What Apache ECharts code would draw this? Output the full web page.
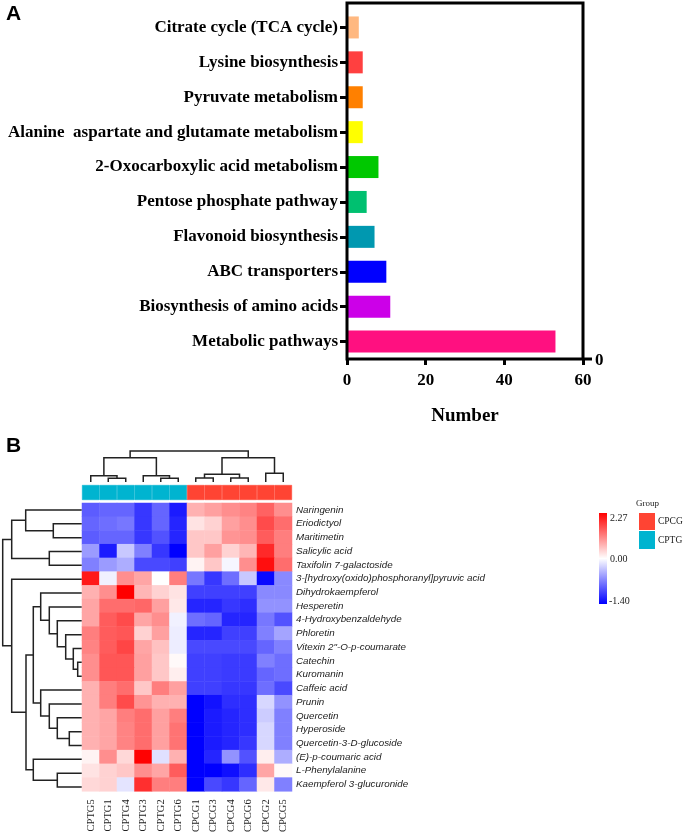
<!DOCTYPE html>
<html>
<head>
<meta charset="utf-8">
<script src="https://cdn.jsdelivr.net/npm/echarts@6/dist/echarts.min.js"></script>
<style>html,body{margin:0;padding:0;background:#fff}#c{width:685px;height:835px}</style>
</head>
<body>
<div id="c"></div>
<script>
// ---------- Panel A data ----------
const pathways = ['Citrate cycle (TCA cycle)','Lysine biosynthesis','Pyruvate metabolism','Alanine  aspartate and glutamate metabolism','2-Oxocarboxylic acid metabolism','Pentose phosphate pathway','Flavonoid biosynthesis','ABC transporters','Biosynthesis of amino acids','Metabolic pathways'];
const pathwayCounts = [3, 4, 4, 4, 8, 5, 7, 10, 11, 53];
const pathwayColors = ['#ffb880','#ff4040','#ff8000','#ffff00','#00c800','#00c070','#0098b0','#0000ff','#cc00e8','#ff1080'];
const numberTicks = [0, 20, 40, 60];

// ---------- Panel B data ----------
const sampleCols = ['CPTG5','CPTG1','CPTG4','CPTG3','CPTG2','CPTG6','CPCG1','CPCG3','CPCG4','CPCG6','CPCG2','CPCG5'];
const sampleGroups = ['CPTG','CPTG','CPTG','CPTG','CPTG','CPTG','CPCG','CPCG','CPCG','CPCG','CPCG','CPCG'];
const metabolites = ['Naringenin','Eriodictyol','Maritimetin','Salicylic acid','Taxifolin 7-galactoside','3-[hydroxy(oxido)phosphoranyl]pyruvic acid','Dihydrokaempferol','Hesperetin','4-Hydroxybenzaldehyde','Phloretin','Vitexin 2"-O-p-coumarate','Catechin','Kuromanin','Caffeic acid','Prunin','Quercetin','Hyperoside','Quercetin-3-D-glucoside','(E)-p-coumaric acid','L-Phenylalanine','Kaempferol 3-glucuronide'];
const zScores = [
  [-0.90,-0.85,-0.85,-1.10,-0.85,-1.25,  0.70, 0.85, 1.00, 1.10, 1.40, 1.00],
  [-0.85,-0.80,-0.75,-1.10,-0.85,-1.20,  0.25, 0.40, 0.85, 1.00, 1.60, 1.30],
  [-0.90,-0.85,-0.85,-1.10,-0.95,-1.20,  0.50, 0.50, 0.95, 1.00, 1.45, 1.15],
  [-0.55,-1.25,-0.30,-0.70,-1.10,-1.40,  0.50, 0.85, 0.40, 0.65, 1.90, 1.15],
  [-0.70,-0.55,-0.45,-1.00,-1.00,-1.05,  0.10, 0.50,-0.05, 1.00, 2.15, 1.30],
  [ 2.05,-0.08, 1.00, 0.80, 0.00, 1.15, -0.75,-1.10,-0.80,-0.30,-1.35,-0.65],
  [ 0.70, 1.00, 2.27, 0.65, 0.40, 0.25, -1.05,-1.05,-1.05,-1.05,-0.65,-0.65],
  [ 0.80, 1.30, 1.30, 1.35, 0.85, 0.20, -1.20,-1.20,-1.10,-1.15,-0.60,-0.60],
  [ 0.80, 1.45, 1.60, 0.80, 1.00,-0.08, -0.80,-0.85,-1.20,-1.20,-0.75,-0.95],
  [ 1.15, 1.45, 1.50, 0.40, 0.85,-0.10, -1.20,-1.20,-1.05,-1.05,-0.70,-0.50],
  [ 1.10, 1.45, 1.65, 0.80, 0.55,-0.10, -1.00,-1.00,-1.00,-1.00,-0.85,-0.70],
  [ 1.00, 1.50, 1.50, 0.85, 0.50, 0.05, -1.05,-1.05,-1.08,-1.08,-0.70,-0.80],
  [ 1.00, 1.50, 1.50, 0.85, 0.50, 0.15, -1.05,-1.05,-1.08,-1.08,-0.85,-0.80],
  [ 0.70, 1.15, 1.30, 0.50, 1.15, 0.85, -1.05,-1.05,-1.10,-1.10,-0.80,-1.00],
  [ 0.70, 1.15, 1.60, 0.95, 0.70, 0.70, -1.40,-1.30,-1.15,-1.15,-0.22,-0.60],
  [ 0.70, 0.80, 1.15, 1.30, 0.85, 1.15, -1.40,-1.25,-1.20,-1.15,-0.28,-0.70],
  [ 0.70, 0.80, 1.10, 1.30, 0.85, 1.25, -1.40,-1.25,-1.20,-1.15,-0.22,-0.70],
  [ 0.70, 0.80, 1.10, 1.30, 0.85, 1.25, -1.40,-1.25,-1.20,-1.10,-0.22,-0.70],
  [ 0.10, 1.00, 0.35, 2.25,-0.17, 0.70, -1.40,-1.20,-0.60,-0.95, 0.15,-0.45],
  [ 0.25, 0.40, 0.50, 1.00, 0.80, 1.45, -1.40,-1.40,-1.32,-1.15, 0.80, 0.05],
  [ 0.35, 0.40,-0.15, 1.85, 1.15, 1.15, -1.40,-1.00,-1.10,-0.85, 0.20,-0.70]
];
const scaleMin = -1.40, scaleMax = 2.27;
// hierarchical clustering merges: [childA, childB, height]; leaves are 0..n-1, merge k becomes node n+k
const colMerges = [[1,2,3.7],[4,5,3.7],[0,12,6.3],[3,13,6.3],[6,7,4.0],[8,9,4.0],[16,17,7.7],[10,11,8.7],[14,15,24.3],[18,19,24.3],[20,21,31]];
const rowMerges = [[1,2,28.4],[0,21,56],[3,4,32.4],[22,23,70],[11,12,4],[10,25,8.4],[9,26,16],[8,27,24.4],[7,28,32.4],[6,29,41],[16,17,12.4],[15,31,24.4],[14,32,32.4],[13,33,41],[30,34,48.4],[19,20,24.4],[18,36,48.4],[35,37,55.7],[5,38,70],[24,39,79]];
const groupNames = ['CPCG','CPTG'];
const groupColors = {CPCG:'#ff4433', CPTG:'#00b4d0'};

// ---------- helpers ----------
function dendroSegments(n, merges){
  const pos = [], hgt = [];
  for (let i=0;i<n;i++){pos.push(i);hgt.push(0);}
  const out = [];
  merges.forEach(m=>{
    const a=m[0], b=m[1], h=m[2];
    out.push([pos[a], hgt[a], pos[b], hgt[b], h]);
    pos.push((pos[a]+pos[b])/2); hgt.push(h);
  });
  return out;
}
const colSegs = dendroSegments(sampleCols.length, colMerges);
const rowSegs = dendroSegments(metabolites.length, rowMerges);

const heatData = [];
zScores.forEach((row,r)=>row.forEach((v,c)=>heatData.push([c,r,v])));

// colour stops so that white sits exactly at 0
const nSeg = 21, zeroStop = Math.round((0-scaleMin)/(scaleMax-scaleMin)*nSeg);
const stops = [];
for (let i=0;i<=nSeg;i++){
  let r,g,b;
  if (i<=zeroStop){const t=i/zeroStop; r=Math.round(255*t); g=r; b=255;}
  else {const t=(i-zeroStop)/(nSeg-zeroStop); r=255; g=Math.round(255*(1-t)); b=g;}
  stops.push('rgb('+r+','+g+','+b+')');
}

const serif = 'Liberation Serif', sans = 'Liberation Sans';
const chart = echarts.init(document.getElementById('c'), null, {renderer:'canvas'});

function dendroRender(horizontal){
  return function(params, api){
    const a=api.value(0), ha=api.value(1), b=api.value(2), hb=api.value(3), h=api.value(4);
    let pts;
    if (horizontal) pts=[api.coord([a,ha]),api.coord([a,h]),api.coord([b,h]),api.coord([b,hb])];
    else pts=[api.coord([ha,a]),api.coord([h,a]),api.coord([h,b]),api.coord([hb,b])];
    return {type:'polyline', shape:{points:pts}, style:{stroke:'#222', lineWidth:1.5, fill:null}};
  };
}

const option = {
  animation:false,
  backgroundColor:'#fff',
  grid:[
    {left:347, top:10, width:236, height:349},
    {left:82, top:451, width:210, height:31},
    {left:82, top:485, width:210, height:15},
    {left:82, top:503, width:210, height:291},
    {left:2.7, top:503, width:79, height:291}
  ],
  xAxis:[
    {gridIndex:0, type:'value', min:numberTicks[0], max:numberTicks[numberTicks.length-1], interval:20,
     axisLine:{show:false}, splitLine:{show:false},
     axisTick:{show:true, length:6, lineStyle:{color:'#000', width:3}},
     axisLabel:{color:'#000', fontFamily:serif, fontWeight:'bold', fontSize:17, margin:13},
     name:'Number', nameLocation:'middle', nameGap:48,
     nameTextStyle:{color:'#000', fontFamily:serif, fontWeight:'bold', fontSize:19}},
    {gridIndex:1, type:'value', min:-0.5, max:sampleCols.length-0.5, show:false},
    {gridIndex:2, type:'category', data:sampleCols, show:false},
    {gridIndex:3, type:'category', data:sampleCols, position:'bottom',
     axisLine:{show:false}, axisTick:{show:false}, splitLine:{show:false},
     axisLabel:{interval:0, rotate:90, color:'#222', fontFamily:serif, fontSize:10.5, margin:8}},
    {gridIndex:4, type:'value', min:0, max:79, inverse:true, show:false}
  ],
  yAxis:[
    {gridIndex:0, type:'category', data:pathways, inverse:true,
     axisLine:{show:false},
     axisTick:{show:true, alignWithLabel:true, length:7, lineStyle:{color:'#000', width:3}},
     axisLabel:{interval:0, color:'#000', fontFamily:serif, fontWeight:'bold', fontSize:17, margin:9}},
    {gridIndex:1, type:'value', min:0, max:31, show:false},
    {gridIndex:2, type:'value', min:0, max:1, show:false},
    {gridIndex:3, type:'category', data:metabolites, inverse:true, position:'right',
     axisLine:{show:false}, axisTick:{show:false}, splitLine:{show:false},
     axisLabel:{interval:0, color:'#222', fontFamily:sans, fontStyle:'italic', fontSize:9.8, margin:4}},
    {gridIndex:4, type:'value', min:-0.5, max:metabolites.length-0.5, inverse:true, show:false}
  ],
  visualMap:{type:'continuous', show:false, min:scaleMin, max:scaleMax, seriesIndex:3, dimension:2,
    inRange:{color:stops}},
  series:[
    {type:'bar', xAxisIndex:0, yAxisIndex:0, barWidth:22,
     data:pathwayCounts.map((v,i)=>({value:v, itemStyle:{color:pathwayColors[i]}}))},
    {type:'custom', xAxisIndex:1, yAxisIndex:1, renderItem:dendroRender(true), data:colSegs,
     encode:{x:[0,2], y:[1,3,4]}, clip:false},
    {type:'bar', xAxisIndex:2, yAxisIndex:2, barCategoryGap:'0%',
     data:sampleGroups.map(g=>({value:1, itemStyle:{color:groupColors[g], borderColor:groupColors[g], borderWidth:0.6}}))},
    {type:'heatmap', xAxisIndex:3, yAxisIndex:3, data:heatData, itemStyle:{borderWidth:0}},
    {type:'custom', xAxisIndex:4, yAxisIndex:4, renderItem:dendroRender(false), data:rowSegs,
     encode:{y:[0,2], x:[1,3,4]}, clip:false}
  ],
  graphic:[
    {type:'text', left:6, top:4, style:{text:'A', font:'bold 21px "Liberation Sans"', fill:'#000'}},
    {type:'text', left:6, top:436, style:{text:'B', font:'bold 21px "Liberation Sans"', fill:'#000'}},
    {type:'rect', shape:{x:347, y:3, width:236, height:356}, style:{fill:null, stroke:'#000', lineWidth:3}, z:10},
    {type:'line', shape:{x1:583, y1:359, x2:592, y2:359}, style:{stroke:'#000', lineWidth:3}, z:10},
    {type:'text', x:595, y:352, style:{text:'0', font:'bold 17px "Liberation Serif"', fill:'#000'}},
    {type:'rect', shape:{x:599, y:513, width:8, height:91},
     style:{fill:new echarts.graphic.LinearGradient(0,0,0,1,[{offset:0,color:'#ff0000'},{offset:0.5,color:'#ffffff'},{offset:1,color:'#0000ff'}])}},
    {type:'text', x:610, y:513, style:{text:scaleMax.toFixed(2), font:'10px "Liberation Serif"', fill:'#222'}},
    {type:'text', x:610, y:554, style:{text:(0).toFixed(2), font:'10px "Liberation Serif"', fill:'#222'}},
    {type:'text', x:609, y:596, style:{text:scaleMin.toFixed(2), font:'10px "Liberation Serif"', fill:'#222'}},
    {type:'text', x:636, y:499, style:{text:'Group', font:'9px "Liberation Serif"', fill:'#222'}},
    {type:'rect', shape:{x:639, y:513, width:16, height:17}, style:{fill:groupColors[groupNames[0]]}},
    {type:'rect', shape:{x:639, y:531, width:16, height:18}, style:{fill:groupColors[groupNames[1]]}},
    {type:'text', x:658, y:516, style:{text:groupNames[0], font:'9.5px "Liberation Serif"', fill:'#222'}},
    {type:'text', x:658, y:535, style:{text:groupNames[1], font:'9.5px "Liberation Serif"', fill:'#222'}}
  ]
};
chart.setOption(option);
</script>
</body>
</html>
